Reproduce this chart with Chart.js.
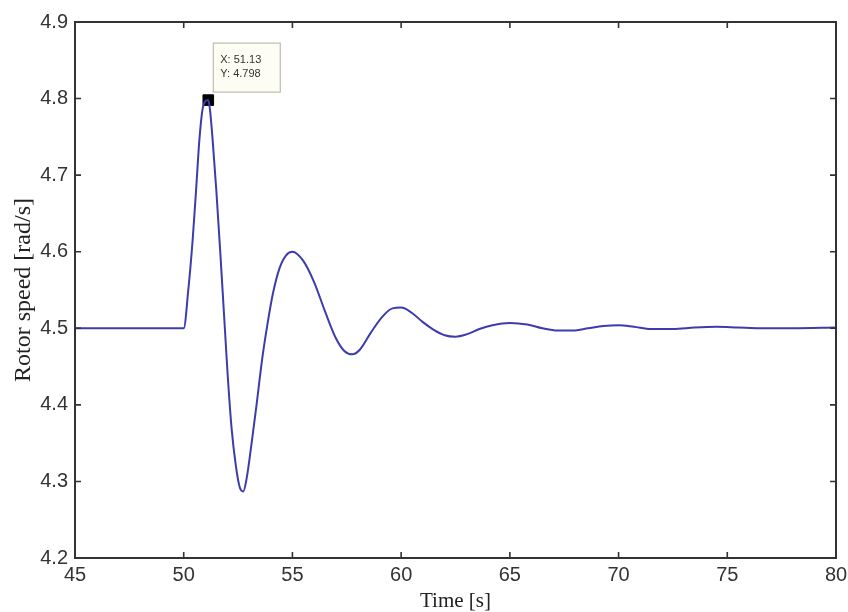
<!DOCTYPE html>
<html>
<head>
<meta charset="utf-8">
<script src="https://cdn.jsdelivr.net/npm/chart.js@4"></script>
<style>
html,body{margin:0;padding:0;background:#fff;}
canvas{display:block;}
</style>
</head>
<body>
<canvas id="c" width="848" height="612"></canvas>
<script>
const timeS = [45.00, 50.00, 50.21, 50.41, 50.57, 50.72, 50.86, 50.98, 51.13, 51.21, 51.33, 51.50, 51.68, 51.85, 52.02, 52.20, 52.40, 52.58, 52.74, 52.90, 53.10, 53.35, 53.60, 53.85, 54.10, 54.40, 54.70, 55.00, 55.50, 56.00, 56.50, 57.00, 57.40, 57.75, 58.10, 58.60, 59.10, 59.60, 60.00, 60.50, 61.00, 61.50, 62.00, 62.50, 63.00, 63.60, 64.20, 65.00, 65.80, 66.50, 67.20, 67.90, 68.60, 69.30, 70.00, 70.70, 71.50, 72.50, 73.50, 74.50, 75.50, 76.50, 78.00, 80.00];
const rotorSpeed = [4.500, 4.500, 4.550, 4.615, 4.681, 4.746, 4.785, 4.796, 4.798, 4.785, 4.746, 4.680, 4.600, 4.520, 4.440, 4.370, 4.320, 4.292, 4.287, 4.305, 4.345, 4.400, 4.458, 4.505, 4.545, 4.578, 4.595, 4.600, 4.588, 4.560, 4.522, 4.487, 4.470, 4.466, 4.472, 4.494, 4.514, 4.526, 4.527, 4.520, 4.508, 4.498, 4.491, 4.489, 4.492, 4.499, 4.504, 4.507, 4.505, 4.500, 4.497, 4.497, 4.500, 4.503, 4.504, 4.502, 4.499, 4.499, 4.501, 4.502, 4.501, 4.500, 4.500, 4.501];
const dataTipX = 51.13;
const dataTipY = 4.798;
const dataTipLines = ['X: 51.13', 'Y: 4.798'];
const xTitle = 'Time [s]';
const yTitle = 'Rotor speed [rad/s]';

const points = timeS.map((t, i) => ({x: t, y: rotorSpeed[i]}));

const boxPlugin = {
  id: 'matlabBox',
  afterDatasetsDraw(chart) {
    const {ctx, chartArea: a, scales: {x, y}} = chart;
    ctx.save();
    ctx.strokeStyle = '#333';
    ctx.lineWidth = 1.6;
    ctx.beginPath();
    x.ticks.forEach(t => {
      const px = x.getPixelForValue(t.value);
      ctx.moveTo(px, a.bottom); ctx.lineTo(px, a.bottom - 6);
      ctx.moveTo(px, a.top); ctx.lineTo(px, a.top + 6);
    });
    y.ticks.forEach(t => {
      const py = y.getPixelForValue(t.value);
      ctx.moveTo(a.left, py); ctx.lineTo(a.left + 6, py);
      ctx.moveTo(a.right, py); ctx.lineTo(a.right - 6, py);
    });
    ctx.stroke();
    ctx.lineWidth = 2;
    ctx.strokeRect(a.left, a.top, a.right - a.left, a.bottom - a.top);
    // data tip box
    const px = x.getPixelForValue(dataTipX);
    const py = y.getPixelForValue(dataTipY);
    const bx = px + 5, by = py - 57, bw = 67, bh = 49;
    ctx.fillStyle = '#fdfdf3';
    ctx.fillRect(bx, by, bw, bh);
    ctx.strokeStyle = '#bdbdb0';
    ctx.lineWidth = 1.2;
    ctx.strokeRect(bx, by, bw, bh);
    ctx.fillStyle = '#333';
    ctx.font = '11px "Liberation Sans", Arial, sans-serif';
    ctx.textBaseline = 'middle';
    ctx.textAlign = 'left';
    ctx.fillText(dataTipLines[0], bx + 7, by + 17);
    ctx.fillText(dataTipLines[1], bx + 7, by + 31);
    ctx.restore();
  }
};

new Chart(document.getElementById('c'), {
  type: 'line',
  data: {
    datasets: [{
      data: points,
      borderColor: '#3c3cae',
      borderWidth: 2,
      pointRadius: 0,
      fill: false,
      cubicInterpolationMode: 'monotone'
    }, {
      data: [{x: dataTipX, y: dataTipY}],
      showLine: false,
      pointStyle: 'rect',
      pointRadius: 7.5,
      pointBackgroundColor: '#000',
      pointBorderColor: '#000',
      pointBorderWidth: 1
    }]
  },
  plugins: [boxPlugin],
  options: {
    responsive: false,
    animation: false,
    layout: {padding: {top: 22, right: 12, left: 0, bottom: 0}},
    plugins: {legend: {display: false}, tooltip: {enabled: false}},
    scales: {
      x: {
        type: 'linear', min: 45, max: 80,
        afterFit(s) { s.height = 54; s.paddingRight = 0; s.paddingLeft = 0; },
        grid: {display: false, drawTicks: false},
        border: {display: false},
        ticks: {stepSize: 5, padding: 5, color: '#333', font: {family: '"Liberation Sans", Arial, sans-serif', size: 20}, maxRotation: 0},
        title: {display: true, text: xTitle, color: '#222', padding: {top: 0, bottom: 0}, font: {family: '"Liberation Serif", "Times New Roman", serif', size: 21, lineHeight: 1}}
      },
      y: {
        type: 'linear', min: 4.2, max: 4.9,
        afterFit(s) { s.width = 75; s.paddingTop = 0; s.paddingBottom = 0; },
        grid: {display: false, drawTicks: false},
        border: {display: false},
        ticks: {stepSize: 0.1, padding: 7, color: '#333', font: {family: '"Liberation Sans", Arial, sans-serif', size: 20}, callback: v => Number(v).toFixed(1)},
        title: {display: true, text: yTitle, color: '#222', padding: {top: 12, bottom: 0}, font: {family: '"Liberation Serif", "Times New Roman", serif', size: 24, lineHeight: 1}}
      }
    }
  }
});
</script>
</body>
</html>
